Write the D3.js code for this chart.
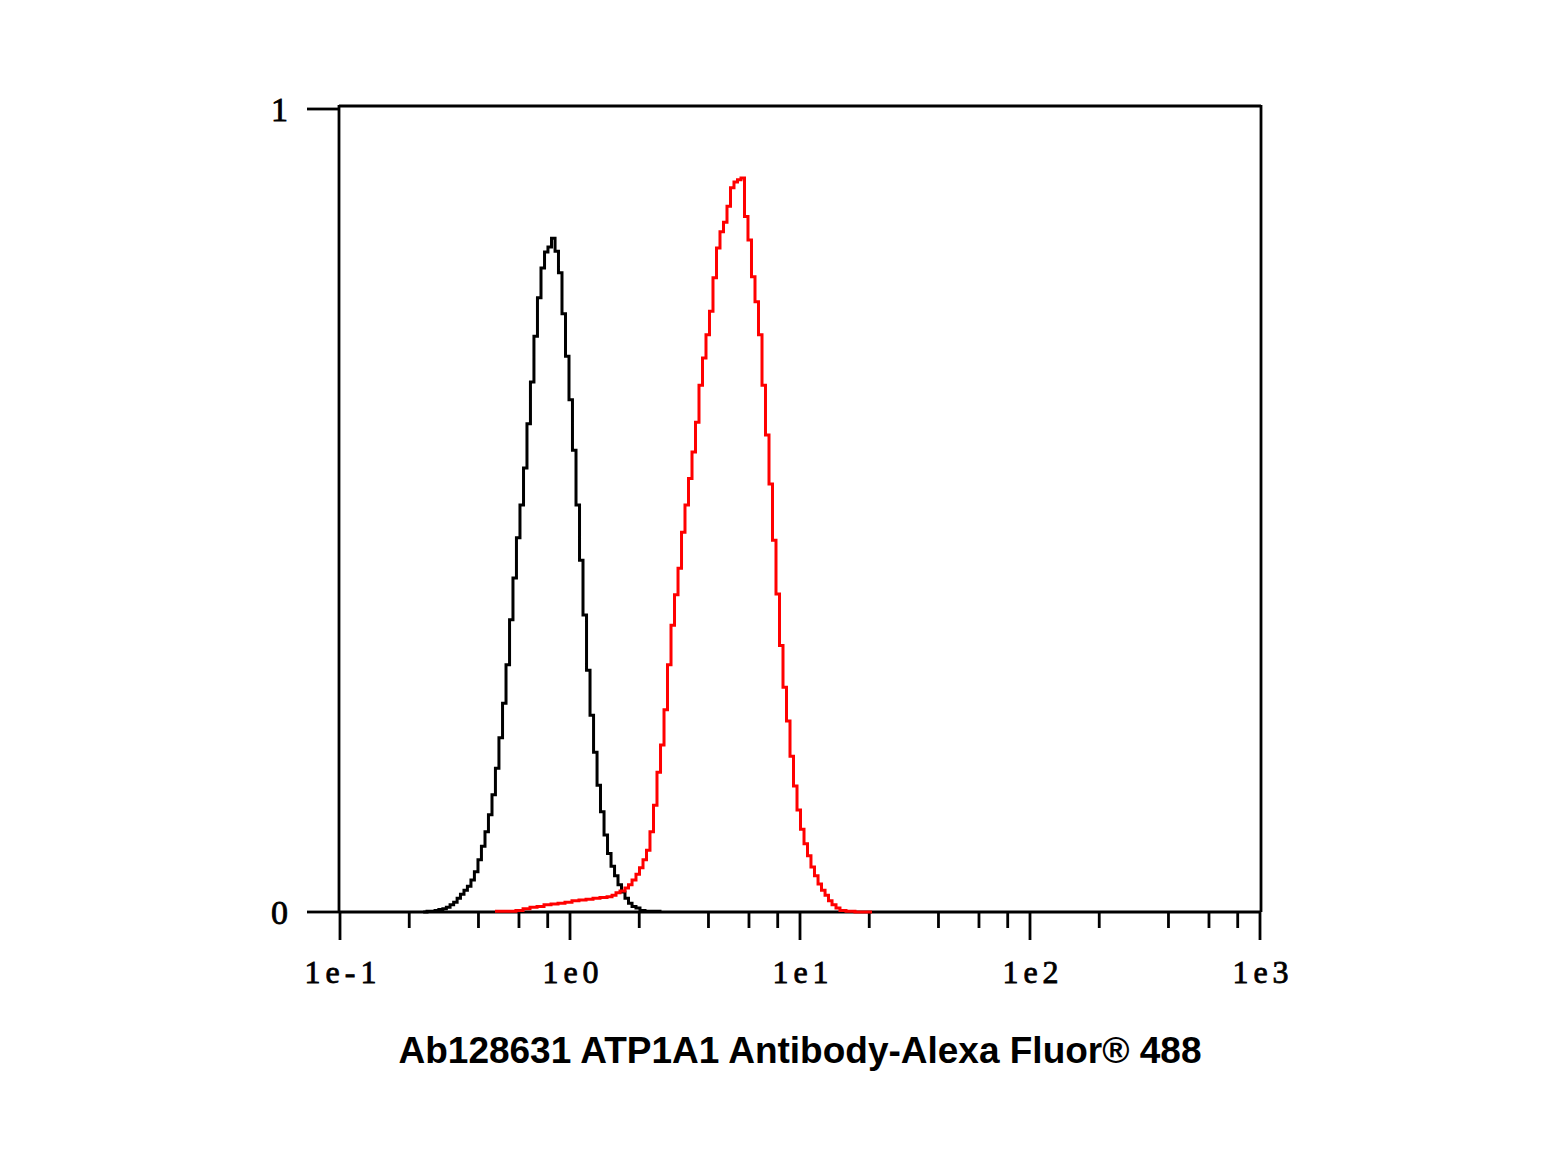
<!DOCTYPE html>
<html><head><meta charset="utf-8">
<script src="https://cdn.jsdelivr.net/npm/d3@7"></script>
<style>body{margin:0;background:#fff;} svg{display:block;}</style>
</head><body>
<script>
// Isotype / control histogram (black)
const blackX = [0.230,0.239,0.249,0.259,0.269,0.280,0.290,0.301,0.312,0.323,0.334,0.346,0.358,0.371,0.384,0.398,0.412,0.427,0.442,0.458,0.474,0.491,0.509,0.527,0.546,0.565,0.585,0.606,0.628,0.650,0.673,0.697,0.722,0.748,0.775,0.802,0.831,0.861,0.891,0.923,0.956,0.990,1.025,1.062,1.100,1.139,1.180,1.222,1.266,1.311,1.357,1.406,1.456,1.508,1.562,1.617,1.675,1.734,1.796,1.861,1.936,2.015,2.119,2.273,2.462];
const blackY = [0.000,0.001,0.001,0.002,0.003,0.004,0.006,0.009,0.012,0.017,0.022,0.027,0.032,0.040,0.050,0.065,0.082,0.100,0.121,0.146,0.179,0.217,0.260,0.308,0.364,0.416,0.466,0.507,0.553,0.608,0.660,0.717,0.765,0.802,0.822,0.828,0.839,0.823,0.796,0.745,0.692,0.638,0.575,0.507,0.438,0.370,0.301,0.245,0.199,0.158,0.125,0.096,0.073,0.057,0.045,0.034,0.025,0.017,0.011,0.007,0.005,0.002,0.001,0.001,0.000];
// ATP1A1 antibody histogram (red)
const redX = [0.472,0.506,0.543,0.582,0.625,0.670,0.719,0.771,0.827,0.887,0.951,1.020,1.094,1.174,1.259,1.350,1.449,1.523,1.585,1.650,1.734,1.796,1.861,1.936,2.005,2.077,2.151,2.227,2.307,2.389,2.475,2.563,2.654,2.749,2.847,2.949,3.054,3.162,3.275,3.392,3.513,3.638,3.768,3.902,4.041,4.185,4.335,4.489,4.649,4.815,4.987,5.164,5.348,5.539,5.737,5.941,6.153,6.373,6.600,6.836,7.079,7.332,7.593,7.864,8.145,8.435,8.736,9.048,9.370,9.705,10.05,10.41,10.78,11.16,11.56,11.98,12.40,12.85,13.30,13.78,14.34,14.92,15.85,17.34,20.56];
const redY = [0.001,0.001,0.001,0.002,0.004,0.006,0.007,0.009,0.010,0.011,0.012,0.014,0.015,0.016,0.017,0.018,0.019,0.021,0.024,0.026,0.030,0.034,0.040,0.047,0.055,0.065,0.077,0.100,0.133,0.174,0.208,0.252,0.308,0.357,0.395,0.428,0.473,0.507,0.540,0.573,0.610,0.656,0.690,0.719,0.748,0.790,0.827,0.847,0.859,0.879,0.902,0.909,0.912,0.914,0.866,0.837,0.791,0.760,0.719,0.656,0.594,0.533,0.463,0.396,0.332,0.280,0.238,0.194,0.157,0.127,0.103,0.085,0.070,0.056,0.045,0.035,0.027,0.021,0.014,0.009,0.005,0.002,0.001,0.000,0.000];

const majorTicks = [0.1, 1, 10, 100, 1000];
const majorLabels = ["1e-1", "1e0", "1e1", "1e2", "1e3"];
const minorMultipliers = [2, 4, 6, 8];
const yTicks = [0, 1];
const yLabels = ["0", "1"];
const chartTitle = "Ab128631 ATP1A1 Antibody-Alexa Fluor\u00AE 488";

const W = 1559, H = 1170;
const pL = 340, pR = 1260, pT = 109, pB = 912;
const tickFont = "'Liberation Serif', 'DejaVu Serif', serif";

const svg = d3.select("body").append("svg").attr("width", W).attr("height", H);

const x = d3.scaleLog().domain([0.1, 1000]).range([pL, pR]);
const y = d3.scaleLinear().domain([0, 1]).range([pB, pT]);

// frame
const frame = svg.append("g").attr("stroke", "#000").attr("stroke-width", 2.8).attr("fill", "none");
frame.append("line").attr("x1", pL - 1).attr("x2", pR + 1).attr("y1", pT - 3).attr("y2", pT - 3);
frame.append("line").attr("x1", pL - 1).attr("x2", pL - 1).attr("y1", pT - 4).attr("y2", pB);
frame.append("line").attr("x1", pR + 1).attr("x2", pR + 1).attr("y1", pT - 4).attr("y2", pB);
frame.append("line").attr("x1", pL - 1).attr("x2", pR + 1).attr("y1", pB).attr("y2", pB);

// x axis ticks
const minorTicks = [];
majorTicks.slice(0, -1).forEach(m => minorMultipliers.forEach(k => minorTicks.push(m * k)));
const xg = svg.append("g").attr("stroke", "#000").attr("stroke-width", 2.8);
xg.selectAll("line.minor").data(minorTicks).join("line").attr("class", "minor")
  .attr("x1", d => x(d)).attr("x2", d => x(d)).attr("y1", pB).attr("y2", pB + 16);
xg.selectAll("line.major").data(majorTicks).join("line").attr("class", "major")
  .attr("x1", d => x(d)).attr("x2", d => x(d)).attr("y1", pB).attr("y2", pB + 28);
svg.append("g").selectAll("text").data(majorTicks).join("text")
  .attr("x", d => x(d) + 3).attr("y", pB + 71)
  .attr("text-anchor", "middle")
  .attr("font-family", tickFont).attr("letter-spacing", 5)
  .attr("font-size", 32).attr("fill", "#000").attr("stroke", "#000").attr("stroke-width", 0.8)
  .text((d, i) => majorLabels[i]);

// y axis ticks
svg.append("g").attr("stroke", "#000").attr("stroke-width", 2.8)
  .selectAll("line").data(yTicks).join("line")
  .attr("x1", pL - 33).attr("x2", pL - 1).attr("y1", d => y(d)).attr("y2", d => y(d));
svg.append("g").selectAll("text").data(yTicks).join("text")
  .attr("x", pL - 52).attr("y", d => y(d) + 12)
  .attr("text-anchor", "end")
  .attr("font-family", tickFont)
  .attr("font-size", 34).attr("fill", "#000").attr("stroke", "#000").attr("stroke-width", 0.8)
  .text((d, i) => yLabels[i]);

// histograms
const line = d3.line().x(d => x(d[0])).y(d => y(d[1])).curve(d3.curveStepAfter);
const blackData = blackX.map((v, i) => [v, blackY[i]]);
const redData = redX.map((v, i) => [v, redY[i]]);
svg.append("path").datum(blackData).attr("d", line)
  .attr("fill", "none").attr("stroke", "#000").attr("stroke-width", 3);
svg.append("path").datum(redData).attr("d", line)
  .attr("fill", "none").attr("stroke", "#ff0000").attr("stroke-width", 3);

// title
svg.append("text").attr("x", 800).attr("y", 1063)
  .attr("text-anchor", "middle")
  .attr("font-family", "'Liberation Sans', Arial, sans-serif").attr("font-weight", "bold")
  .attr("font-size", 37).attr("fill", "#000")
  .attr("textLength", 803).attr("lengthAdjust", "spacingAndGlyphs")
  .text(chartTitle);
</script>
</body></html>
